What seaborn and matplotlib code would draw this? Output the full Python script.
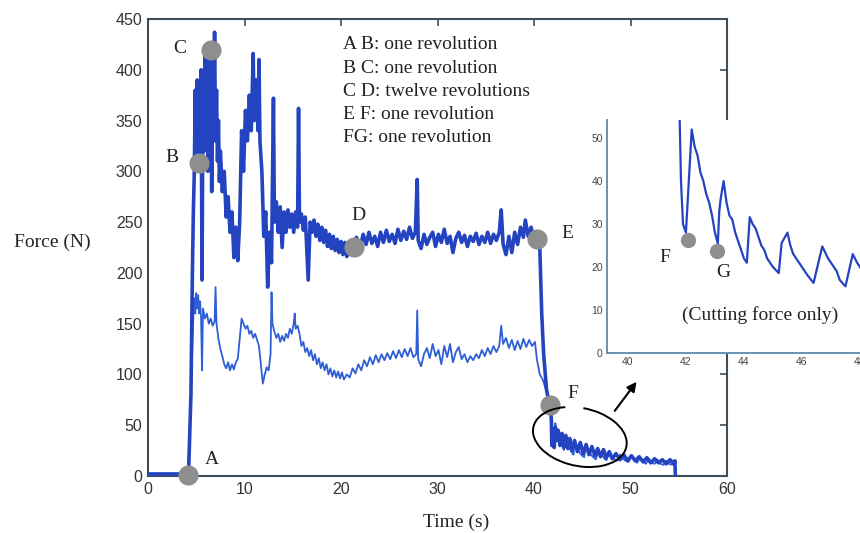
import numpy as np
import pandas as pd
import matplotlib
matplotlib.use("Agg")
import matplotlib.pyplot as plt
import matplotlib.transforms as mtransforms
from matplotlib.patches import Arc
import seaborn as sns

# ---------------- data ----------------
total_time = [0, 2.0, 4.0, 4.2, 4.45, 4.6, 4.7, 4.8, 4.9, 5.0, 5.1, 5.2, 5.3, 5.4, 5.5, 5.6, 5.7, 5.8,
              5.9, 6.0, 6.1, 6.2, 6.3, 6.4, 6.5, 6.6, 6.7, 6.8, 6.9, 7.0, 7.1, 7.2, 7.3, 7.4, 7.5, 7.7,
              7.9, 8.1, 8.3, 8.5, 8.7, 8.9, 9.1, 9.3, 9.5, 9.7, 9.9, 10.1, 10.3, 10.5, 10.7, 10.9, 11.0,
              11.2, 11.4, 11.5, 11.6, 11.8, 12.0, 12.2, 12.4, 12.6, 12.8, 13.0, 13.1, 13.3, 13.5, 13.7,
              13.9, 14.1, 14.3, 14.5, 14.7, 14.9, 15.1, 15.3, 15.5, 15.6, 15.7, 15.9, 16.1, 16.3, 16.6,
              16.8, 17.0, 17.2, 17.4, 17.6, 17.8, 18.0, 18.2, 18.4, 18.6, 18.8, 19.0, 19.2, 19.4, 19.6,
              19.8, 20.0, 20.2, 20.4, 20.6, 20.8, 21.0, 21.2, 21.4, 21.6, 22.0, 22.3, 22.6, 22.9, 23.2,
              23.5, 23.8, 24.1, 24.4, 24.7, 25.0, 25.3, 25.6, 25.9, 26.2, 26.5, 26.8, 27.1, 27.4, 27.7,
              27.9, 28.0, 28.3, 28.6, 28.9, 29.2, 29.5, 29.8, 30.1, 30.4, 30.7, 31.0, 31.3, 31.6, 31.9,
              32.2, 32.5, 32.8, 33.1, 33.4, 33.7, 34.0, 34.3, 34.6, 34.9, 35.2, 35.5, 35.8, 36.1, 36.4,
              36.6, 36.8, 37.1, 37.4, 37.7, 38.0, 38.3, 38.6, 38.9, 39.1, 39.4, 39.7, 40.0, 40.3, 40.6,
              40.8, 41.0, 41.3, 41.5, 41.7, 41.8, 41.85, 42.0, 42.1, 42.2, 42.4, 42.5, 42.7, 42.9, 43.1,
              43.3, 43.5, 43.7, 43.9, 44.2, 44.5, 44.8, 45.1, 45.4, 45.7, 46.0, 46.3, 46.6, 46.9, 47.2,
              47.5, 47.8, 48.1, 48.5, 48.9, 49.3, 49.7, 50.1, 50.5, 50.9, 51.3, 51.7, 52.1, 52.5, 52.9,
              53.3, 53.7, 54.1, 54.5, 54.6, 54.65]
total_force = [2, 2, 2, 2, 80, 200, 260, 300, 380, 300, 390, 310, 360, 300, 400, 193, 380, 320,
               420, 330, 410, 300, 425, 340, 415, 280, 420, 350, 437, 330, 380, 310, 350, 290, 320, 280,
               300, 255, 275, 240, 260, 215, 245, 212, 250, 340, 300, 360, 330, 375, 340, 416, 350,
               390, 340, 410, 330, 300, 236, 260, 186, 240, 210, 372, 250, 270, 240, 265,
               225, 260, 240, 262, 245, 258, 240, 260, 245, 362, 250, 258, 242, 255, 193,
               250, 240, 252, 236, 248, 232, 245, 230, 242, 226, 238, 224, 236, 222, 233,
               220, 231, 218, 230, 216, 228, 220, 232, 222, 235, 226, 238, 228, 240, 229,
               236, 226, 240, 230, 242, 231, 238, 229, 243, 232, 241, 233, 245, 234, 240,
               292, 232, 224, 238, 228, 235, 240, 226, 238, 230, 243, 229, 236, 220, 234,
               240, 230, 237, 226, 236, 231, 239, 228, 236, 230, 240, 229, 238, 232, 240,
               262, 228, 218, 236, 220, 240, 228, 245, 235, 252, 236, 245, 233, 240, 225,
               160, 120, 85, 75, 68, 55, 30, 40, 28, 48, 35, 45, 30, 42, 28,
               40, 27, 37, 25, 35, 24, 33, 22, 31, 21, 29, 20, 27, 19, 26,
               18, 24, 17, 22, 16, 21, 15, 20, 15, 19, 14, 18, 13, 17, 13,
               16, 12, 16, 12, 15, 0]

cut_time = [0, 2.0, 4.1, 4.3, 4.5, 4.7, 4.8, 4.9, 5.0, 5.1, 5.2, 5.3, 5.4, 5.5, 5.6, 5.7, 5.9, 6.1,
            6.3, 6.5, 6.7, 6.9, 7.0, 7.1, 7.3, 7.5, 7.7, 7.9, 8.1, 8.3, 8.5, 8.7, 8.9, 9.1, 9.3, 9.5,
            9.7, 9.9, 10.1, 10.3, 10.5, 10.7, 10.9, 11.1, 11.3, 11.5, 11.7, 11.9, 12.1, 12.3, 12.5,
            12.7, 12.8, 12.9, 13.1, 13.3, 13.5, 13.7, 13.9, 14.1, 14.3, 14.5, 14.7, 14.9, 15.1, 15.2,
            15.3, 15.5, 15.7, 15.9, 16.1, 16.3, 16.5, 16.7, 16.9, 17.1, 17.3, 17.5, 17.7, 17.9, 18.1,
            18.3, 18.5, 18.7, 18.9, 19.1, 19.3, 19.5, 19.7, 19.9, 20.1, 20.3, 20.6, 20.9, 21.2, 21.5,
            21.8, 22.1, 22.4, 22.7, 23.0, 23.3, 23.6, 23.9, 24.2, 24.5, 24.8, 25.1, 25.4, 25.7, 26.0,
            26.3, 26.6, 26.9, 27.2, 27.5, 27.8, 27.9, 28.0, 28.3, 28.6, 28.9, 29.2, 29.5, 29.8, 30.1,
            30.4, 30.7, 31.0, 31.3, 31.6, 31.9, 32.2, 32.5, 32.8, 33.1, 33.4, 33.7, 34.0, 34.3, 34.6,
            34.9, 35.2, 35.5, 35.8, 36.1, 36.4, 36.6, 36.8, 37.1, 37.4, 37.7, 38.0, 38.3, 38.6, 38.9,
            39.2, 39.5, 39.8, 40.1, 40.3, 40.6, 40.9, 41.2, 41.5, 41.7, 41.78, 41.83, 41.9, 42.0,
            42.1, 42.2, 42.3, 42.4, 42.5, 42.6, 42.7, 42.8, 42.9, 43.0, 43.1, 43.15, 43.2, 43.3, 43.4,
            43.5, 43.6, 43.7, 43.8, 43.9, 44.0, 44.1, 44.2, 44.3, 44.4, 44.5, 44.6, 44.7, 44.8, 44.9,
            45.0, 45.2, 45.3, 45.5, 45.6, 45.7, 45.8, 45.9, 46.0, 46.2, 46.4, 46.7, 46.9, 47.0, 47.2,
            47.3, 47.5, 47.75, 47.9, 48.1, 48.3, 48.6, 48.9, 49.2, 49.5, 49.8, 50.1, 50.4, 50.7, 51.0,
            51.3, 51.6, 51.9, 52.2, 52.5, 52.8, 53.1, 53.4, 53.7, 54.0, 54.3, 54.6, 54.65]
cut_force = [0, 0, 0, 40, 100, 157, 175, 160, 180, 165, 178, 160, 172, 155, 104, 165, 155, 160,
             150, 155, 148, 152, 186, 150, 135, 125, 118, 110, 106, 112, 104, 110, 105, 112, 115, 135,
             155, 150, 145, 148, 140, 143, 136, 140, 134, 128, 110, 91, 100, 107, 104,
             120, 181, 150, 142, 136, 140, 132, 138, 133, 140, 136, 145, 140, 150, 160,
             145, 148, 140, 128, 132, 122, 126, 118, 124, 114, 120, 110, 116, 106, 112,
             104, 110, 100, 106, 98, 104, 97, 103, 96, 102, 95, 100, 97, 106, 101,
             110, 104, 114, 108, 117, 110, 119, 112, 120, 114, 121, 115, 123, 116, 124,
             117, 125, 118, 126, 117, 120, 163, 115, 108, 120, 126, 116, 130, 118, 124,
             110, 128, 117, 130, 112, 122, 127, 115, 120, 112, 118, 114, 120, 116, 124,
             118, 126, 120, 128, 122, 128, 148, 130, 136, 126, 134, 124, 133, 125, 135,
             127, 134, 128, 132, 115, 100, 95, 86, 78, 70, 56, 40, 30, 28,
             40, 52, 48, 46, 42, 40, 37, 35, 32, 28, 25.5, 33, 36, 40, 35,
             32, 31, 28, 26, 24, 22, 21, 31.6, 30, 29, 27, 25, 24, 22, 21,
             20, 18.6, 25.6, 28, 25, 23, 22, 21, 20, 18, 16.3, 24.8, 22, 21, 19,
             17, 15.5, 23, 21, 19, 16.6, 15, 21, 17, 15, 14, 19, 15, 13, 18,
             14, 12, 17, 13, 12, 16, 12, 11, 15, 12, 11, 13, 0]

point_labels = ["A", "B", "C", "D", "E", "F"]
point_time = [4.18, 5.32, 6.53, 21.3, 40.3, 41.66]
point_force = [1, 308, 419, 225.7, 233, 70]

inset_labels = ["F", "G"]
inset_time = [42.06, 43.06]
inset_force = [26.3, 23.8]

legend_lines = ["A B: one revolution", "B C: one revolution", "C D: twelve revolutions",
                "E F: one revolution", "FG: one revolution"]

x_ticks = [0, 10, 20, 30, 40, 50, 60]
y_ticks = [0, 50, 100, 150, 200, 250, 300, 350, 400, 450]
inset_x_ticks = [40, 42, 44, 46, 48]
inset_y_ticks = [0, 10, 20, 30, 40, 50]

# ---------------- styling ----------------
sns.set_theme(style="white")
plt.rcParams["font.family"] = ["Liberation Sans", "DejaVu Sans"]
SERIF = ["Liberation Serif", "DejaVu Serif"]
BLUE_DARK = "#2443c0"
BLUE_LIGHT = "#2f5fd6"
SPINE = "#3e4e5c"
INSET_SPINE = "#5a8ab0"
GRAY = "#8e8e8e"

W, H = 860, 533
fig = plt.figure(figsize=(W / 100, H / 100), dpi=100)
fig.patch.set_facecolor("white")

def px_rect(l, t, r, b):
    return [l / W, 1 - b / H, (r - l) / W, (b - t) / H]

ax = fig.add_axes(px_rect(148, 19, 727, 476))

df_total = pd.DataFrame({"time": total_time, "force": total_force})
df_cut = pd.DataFrame({"time": cut_time, "force": cut_force})

sns.lineplot(data=df_cut, x="time", y="force", ax=ax, color=BLUE_LIGHT, lw=1.3,
             estimator=None, sort=False, zorder=2)
sns.lineplot(data=df_total, x="time", y="force", ax=ax, color=BLUE_DARK, lw=2.6,
             estimator=None, sort=False, zorder=3)
ax.plot(point_time, point_force, "o", ms=14.5, color=GRAY, mec="none", zorder=5, clip_on=False)

ax.set_xlim(0, 60)
ax.set_ylim(0, 450)
ax.set_xticks(x_ticks)
ax.set_yticks(y_ticks)
ax.set_xlabel("")
ax.set_ylabel("")
ax.tick_params(direction="in", length=5, width=1.2, color=SPINE, top=True, right=True,
               labelsize=11.5, labelcolor="#333333", pad=4)
for sp in ax.spines.values():
    sp.set_color(SPINE)
    sp.set_linewidth(1.5)

# point letters (pixel -> data positions)
letter_pos = {"C": (180, 48), "B": (172, 158), "A": (212, 460), "D": (358, 215),
              "E": (567, 233), "F": (573, 393)}
for lab in point_labels:
    px, py = letter_pos[lab]
    ax.text((px - 148) / 579 * 60, (476 - py) / 457 * 450, lab, family=SERIF, fontsize=14,
            ha="center", va="center", color="#222222", zorder=6)

# descriptive text
for i, line in enumerate(legend_lines):
    fig.text(343 / W, 1 - (45 + i * 23.2) / H, line, family=SERIF, fontsize=14,
             ha="left", va="center", color="#222222")

fig.text(52 / W, 1 - 242 / H, "Force (N)", family=SERIF, fontsize=14, ha="center",
         va="center", color="#222222")
fig.text(456 / W, 1 - 522 / H, "Time (s)", family=SERIF, fontsize=14, ha="center",
         va="center", color="#222222")

# hand-drawn loop around the tail and arrow
loop_trans = fig.dpi_scale_trans + mtransforms.ScaledTranslation(44.75, 38.4, ax.transData)
loop = Arc((0, 0), 0.95, 0.58, angle=-12, theta1=128, theta2=455, transform=loop_trans,
           color="black", lw=1.4, zorder=6)
ax.add_patch(loop)
ax.annotate("", xy=(50.8, 95), xytext=(48.2, 62),
            arrowprops=dict(arrowstyle="-|>", color="black", lw=1.5, mutation_scale=14),
            zorder=6)

# ---------------- inset ----------------
ins = fig.add_axes(px_rect(607, 120, 889, 353))
ins.set_facecolor("white")
sns.lineplot(data=df_cut, x="time", y="force", ax=ins, color=BLUE_DARK, lw=1.6,
             estimator=None, sort=False)
ins.plot(inset_time, inset_force, "o", ms=11, color=GRAY, mec="none", zorder=5)
ins.set_xlim(39.28, 49.0)
ins.set_ylim(0, 54.2)
ins.set_xticks(inset_x_ticks)
ins.set_yticks(inset_y_ticks)
ins.set_xlabel("")
ins.set_ylabel("")
ins.spines["top"].set_visible(False)
ins.spines["right"].set_visible(False)
for s in ("left", "bottom"):
    ins.spines[s].set_color(INSET_SPINE)
    ins.spines[s].set_linewidth(1.3)
ins.tick_params(direction="in", length=3, width=1, color="#333333", labelsize=7.5,
                labelcolor="#444444", pad=3)
ins_letters = {"F": (41.28, 22.1), "G": (43.28, 18.8)}
for lab in inset_labels:
    x, y = ins_letters[lab]
    ins.text(x, y, lab, family=SERIF, fontsize=14, ha="center", va="center", color="#222222")
ins.text(44.55, 8.8, "(Cutting force only)", family=SERIF, fontsize=14, ha="center",
         va="center", color="#222222")

fig.savefig("out.png", dpi=100)
